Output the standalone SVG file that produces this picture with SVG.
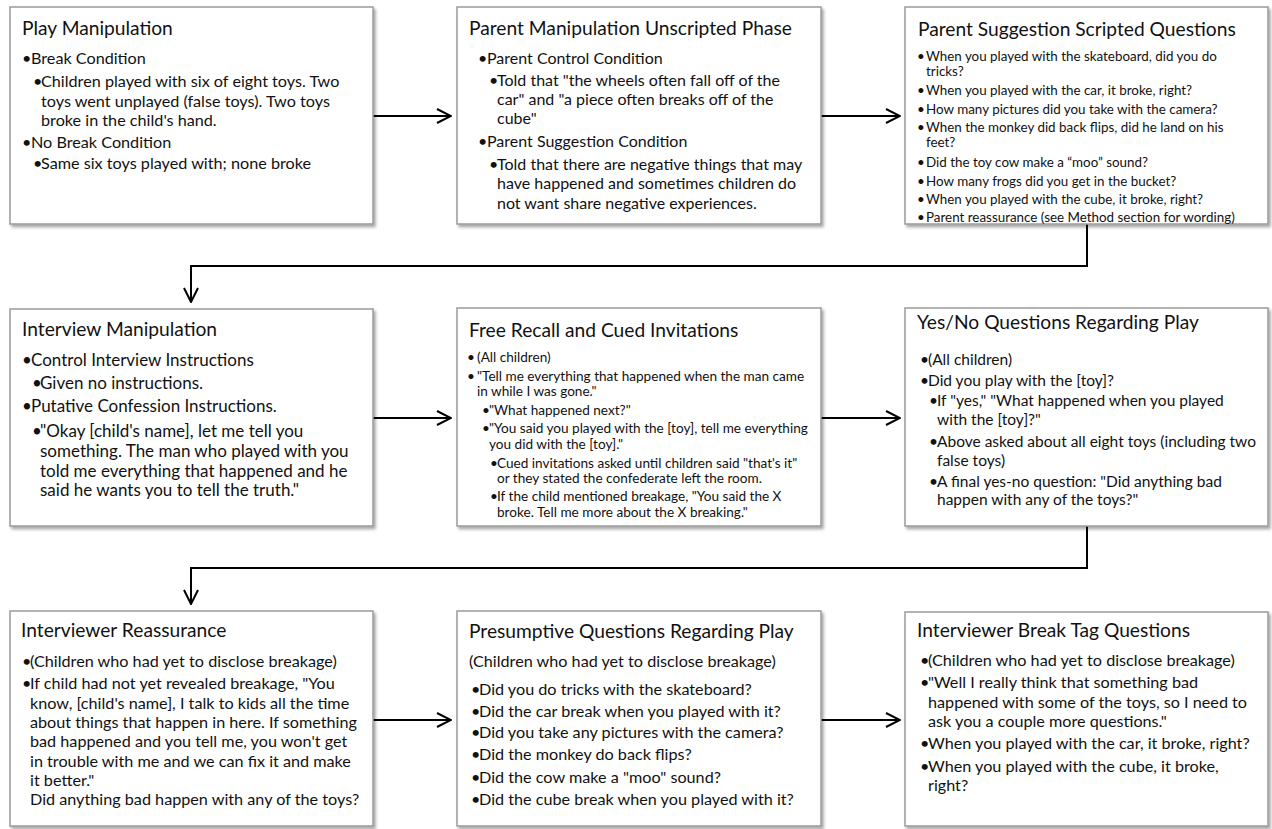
<svg xmlns="http://www.w3.org/2000/svg" width="1272" height="829" viewBox="0 0 1272 829">
<defs>
<filter id="sh" x="-5%" y="-5%" width="115%" height="115%">
<feDropShadow dx="2" dy="2.5" stdDeviation="1.6" flood-color="#000" flood-opacity="0.35"/>
</filter>
<marker id="ah" viewBox="0 0 16 16" refX="15" refY="8" markerWidth="16" markerHeight="16" markerUnits="userSpaceOnUse" orient="auto">
<path d="M1,1 L15,8 L1,15" fill="none" stroke="#000" stroke-width="2"/>
</marker>
</defs>
<style>
.box{fill:#fff;stroke:#9a9a9a;stroke-width:1.5;filter:url(#sh)}
text{font-family:Lato,"Liberation Sans",sans-serif;fill:#111}
.t{font-size:19.2px}
.b{font-size:16.2px}
.b2{font-size:16px}
.b4{font-size:17px}
.b6{font-size:15.5px}
.s{font-size:13.4px}
.s5{font-size:13.6px}
.c{fill:none;stroke:#000;stroke-width:2}
</style>
<rect width="1272" height="829" fill="#fff"/>

<g id="connectors">
<path class="c" d="M373,116 H451" marker-end="url(#ah)"/>
<path class="c" d="M821,116 H900" marker-end="url(#ah)"/>
<path class="c" d="M1087,224 V266 H191 V302" marker-end="url(#ah)"/>
<path class="c" d="M373,418 H451" marker-end="url(#ah)"/>
<path class="c" d="M821,418 H900" marker-end="url(#ah)"/>
<path class="c" d="M1087,526 V568 H191 V604" marker-end="url(#ah)"/>
<path class="c" d="M373,720 H451" marker-end="url(#ah)"/>
<path class="c" d="M821,720 H900" marker-end="url(#ah)"/>
</g>

<g id="n1">
<rect class="box" x="10" y="7" width="363" height="217"/>
<text class="t" x="22" y="35">Play Manipulation</text>
<text class="b"><tspan x="22" y="64">•</tspan><tspan x="31" y="64">Break Condition</tspan>
<tspan x="33" y="87">•</tspan><tspan x="41" y="87">Children played with six of eight toys. Two</tspan>
<tspan x="41" y="107">toys went unplayed (false toys). Two toys</tspan>
<tspan x="41" y="126">broke in the child's hand.</tspan>
<tspan x="22" y="148">•</tspan><tspan x="31" y="148">No Break Condition</tspan>
<tspan x="33" y="169">•</tspan><tspan x="41" y="169">Same six toys played with; none broke</tspan></text>
</g>

<g id="n2">
<rect class="box" x="457" y="7" width="364" height="217"/>
<text class="t" x="469" y="35">Parent Manipulation Unscripted Phase</text>
<text class="b2"><tspan x="478" y="64">•</tspan><tspan x="487" y="64">Parent Control Condition</tspan>
<tspan x="489" y="86">•</tspan><tspan x="497" y="86">Told that "the wheels often fall off of the</tspan>
<tspan x="497" y="105">car" and "a piece often breaks off of the</tspan>
<tspan x="497" y="124">cube"</tspan>
<tspan x="478" y="147">•</tspan><tspan x="487" y="147">Parent Suggestion Condition</tspan>
<tspan x="489" y="170">•</tspan><tspan x="497" y="170">Told that there are negative things that may</tspan>
<tspan x="497" y="189">have happened and sometimes children do</tspan>
<tspan x="497" y="209">not want share negative experiences.</tspan></text>
</g>

<g id="n3">
<rect class="box" x="905" y="7" width="363" height="217"/>
<text class="t" x="918" y="36">Parent Suggestion Scripted Questions</text>
<text class="s"><tspan x="917" y="61">•</tspan><tspan x="926" y="61">When you played with the skateboard, did you do</tspan>
<tspan x="926" y="76">tricks?</tspan>
<tspan x="917" y="95">•</tspan><tspan x="926" y="95">When you played with the car, it broke, right?</tspan>
<tspan x="917" y="114">•</tspan><tspan x="926" y="114">How many pictures did you take with the camera?</tspan>
<tspan x="917" y="132">•</tspan><tspan x="926" y="132">When the monkey did back flips, did he land on his</tspan>
<tspan x="926" y="147">feet?</tspan>
<tspan x="917" y="167">•</tspan><tspan x="926" y="167">Did the toy cow make a “moo” sound?</tspan>
<tspan x="917" y="186">•</tspan><tspan x="926" y="186">How many frogs did you get in the bucket?</tspan>
<tspan x="917" y="204">•</tspan><tspan x="926" y="204">When you played with the cube, it broke, right?</tspan>
<tspan x="917" y="222">•</tspan><tspan x="926" y="222">Parent reassurance (see Method section for wording)</tspan></text>
</g>

<g id="n4">
<rect class="box" x="10" y="309" width="363" height="217"/>
<text class="t" x="22" y="336">Interview Manipulation</text>
<text class="b4"><tspan x="22" y="366">•</tspan><tspan x="31" y="366">Control Interview Instructions</tspan>
<tspan x="32" y="389">•</tspan><tspan x="40" y="389">Given no instructions.</tspan>
<tspan x="22" y="412">•</tspan><tspan x="31" y="412">Putative Confession Instructions.</tspan>
<tspan x="32" y="437">•</tspan><tspan x="40" y="437">"Okay [child's name], let me tell you</tspan>
<tspan x="40" y="457">something. The man who played with you</tspan>
<tspan x="40" y="477">told me everything that happened and he</tspan>
<tspan x="40" y="496">said he wants you to tell the truth."</tspan></text>
</g>

<g id="n5">
<rect class="box" x="457" y="308" width="364" height="218"/>
<text class="t" x="469" y="337">Free Recall and Cued Invitations</text>
<text class="s5"><tspan x="467" y="362">•</tspan><tspan x="477" y="362">(All children)</tspan>
<tspan x="467" y="381">•</tspan><tspan x="477" y="381">"Tell me everything that happened when the man came</tspan>
<tspan x="477" y="396">in while I was gone."</tspan>
<tspan x="482" y="415">•</tspan><tspan x="489" y="415">"What happened next?"</tspan>
<tspan x="482" y="433">•</tspan><tspan x="489" y="433">"You said you played with the [toy], tell me everything</tspan>
<tspan x="489" y="449">you did with the [toy]."</tspan>
<tspan x="490" y="468">•</tspan><tspan x="497" y="468">Cued invitations asked until children said "that's it"</tspan>
<tspan x="497" y="483">or they stated the confederate left the room.</tspan>
<tspan x="490" y="501">•</tspan><tspan x="497" y="501">If the child mentioned breakage, "You said the X</tspan>
<tspan x="497" y="517">broke. Tell me more about the X breaking."</tspan></text>
</g>

<g id="n6">
<rect class="box" x="905" y="308" width="363" height="218"/>
<text class="t" x="917" y="329">Yes/No Questions Regarding Play</text>
<text class="b6"><tspan x="920" y="365">•</tspan><tspan x="928" y="365">(All children)</tspan>
<tspan x="920" y="386">•</tspan><tspan x="928" y="386">Did you play with the [toy]?</tspan>
<tspan x="929" y="406">•</tspan><tspan x="937" y="406">If "yes," "What happened when you played</tspan>
<tspan x="937" y="425">with the [toy]?"</tspan>
<tspan x="929" y="447">•</tspan><tspan x="937" y="447">Above asked about all eight toys (including two</tspan>
<tspan x="937" y="466">false toys)</tspan>
<tspan x="929" y="487">•</tspan><tspan x="937" y="487">A final yes-no question: "Did anything bad</tspan>
<tspan x="937" y="505">happen with any of the toys?"</tspan></text>
</g>

<g id="n7">
<rect class="box" x="10" y="611" width="363" height="215"/>
<text class="t" x="21" y="637">Interviewer Reassurance</text>
<text class="b"><tspan x="22" y="667">•</tspan><tspan x="30" y="667">(Children who had yet to disclose breakage)</tspan>
<tspan x="22" y="689">•</tspan><tspan x="30" y="689">If child had not yet revealed breakage, "You</tspan>
<tspan x="30" y="709">know, [child's name], I talk to kids all the time</tspan>
<tspan x="30" y="728">about things that happen in here. If something</tspan>
<tspan x="30" y="747">bad happened and you tell me, you won't get</tspan>
<tspan x="30" y="767">in trouble with me and we can fix it and make</tspan>
<tspan x="30" y="786">it better."</tspan>
<tspan x="30" y="805">Did anything bad happen with any of the toys?</tspan></text>
</g>

<g id="n8">
<rect class="box" x="457" y="611" width="364" height="215"/>
<text class="t" x="469" y="638">Presumptive Questions Regarding Play</text>
<text class="b"><tspan x="469" y="667">(Children who had yet to disclose breakage)</tspan>
<tspan x="471" y="695">•</tspan><tspan x="479" y="695">Did you do tricks with the skateboard?</tspan>
<tspan x="471" y="717">•</tspan><tspan x="479" y="717">Did the car break when you played with it?</tspan>
<tspan x="471" y="738">•</tspan><tspan x="479" y="738">Did you take any pictures with the camera?</tspan>
<tspan x="471" y="760">•</tspan><tspan x="479" y="760">Did the monkey do back flips?</tspan>
<tspan x="471" y="783">•</tspan><tspan x="479" y="783">Did the cow make a "moo" sound?</tspan>
<tspan x="471" y="805">•</tspan><tspan x="479" y="805">Did the cube break when you played with it?</tspan></text>
</g>

<g id="n9">
<rect class="box" x="905" y="612" width="363" height="214"/>
<text class="t" x="917" y="637">Interviewer Break Tag Questions</text>
<text class="b"><tspan x="920" y="666">•</tspan><tspan x="928" y="666">(Children who had yet to disclose breakage)</tspan>
<tspan x="920" y="688">•</tspan><tspan x="928" y="688">"Well I really think that something bad</tspan>
<tspan x="928" y="708">happened with some of the toys, so I need to</tspan>
<tspan x="928" y="727">ask you a couple more questions."</tspan>
<tspan x="920" y="749">•</tspan><tspan x="928" y="749">When you played with the car, it broke, right?</tspan>
<tspan x="920" y="772">•</tspan><tspan x="928" y="772">When you played with the cube, it broke,</tspan>
<tspan x="928" y="791">right?</tspan></text>
</g>
</svg>
